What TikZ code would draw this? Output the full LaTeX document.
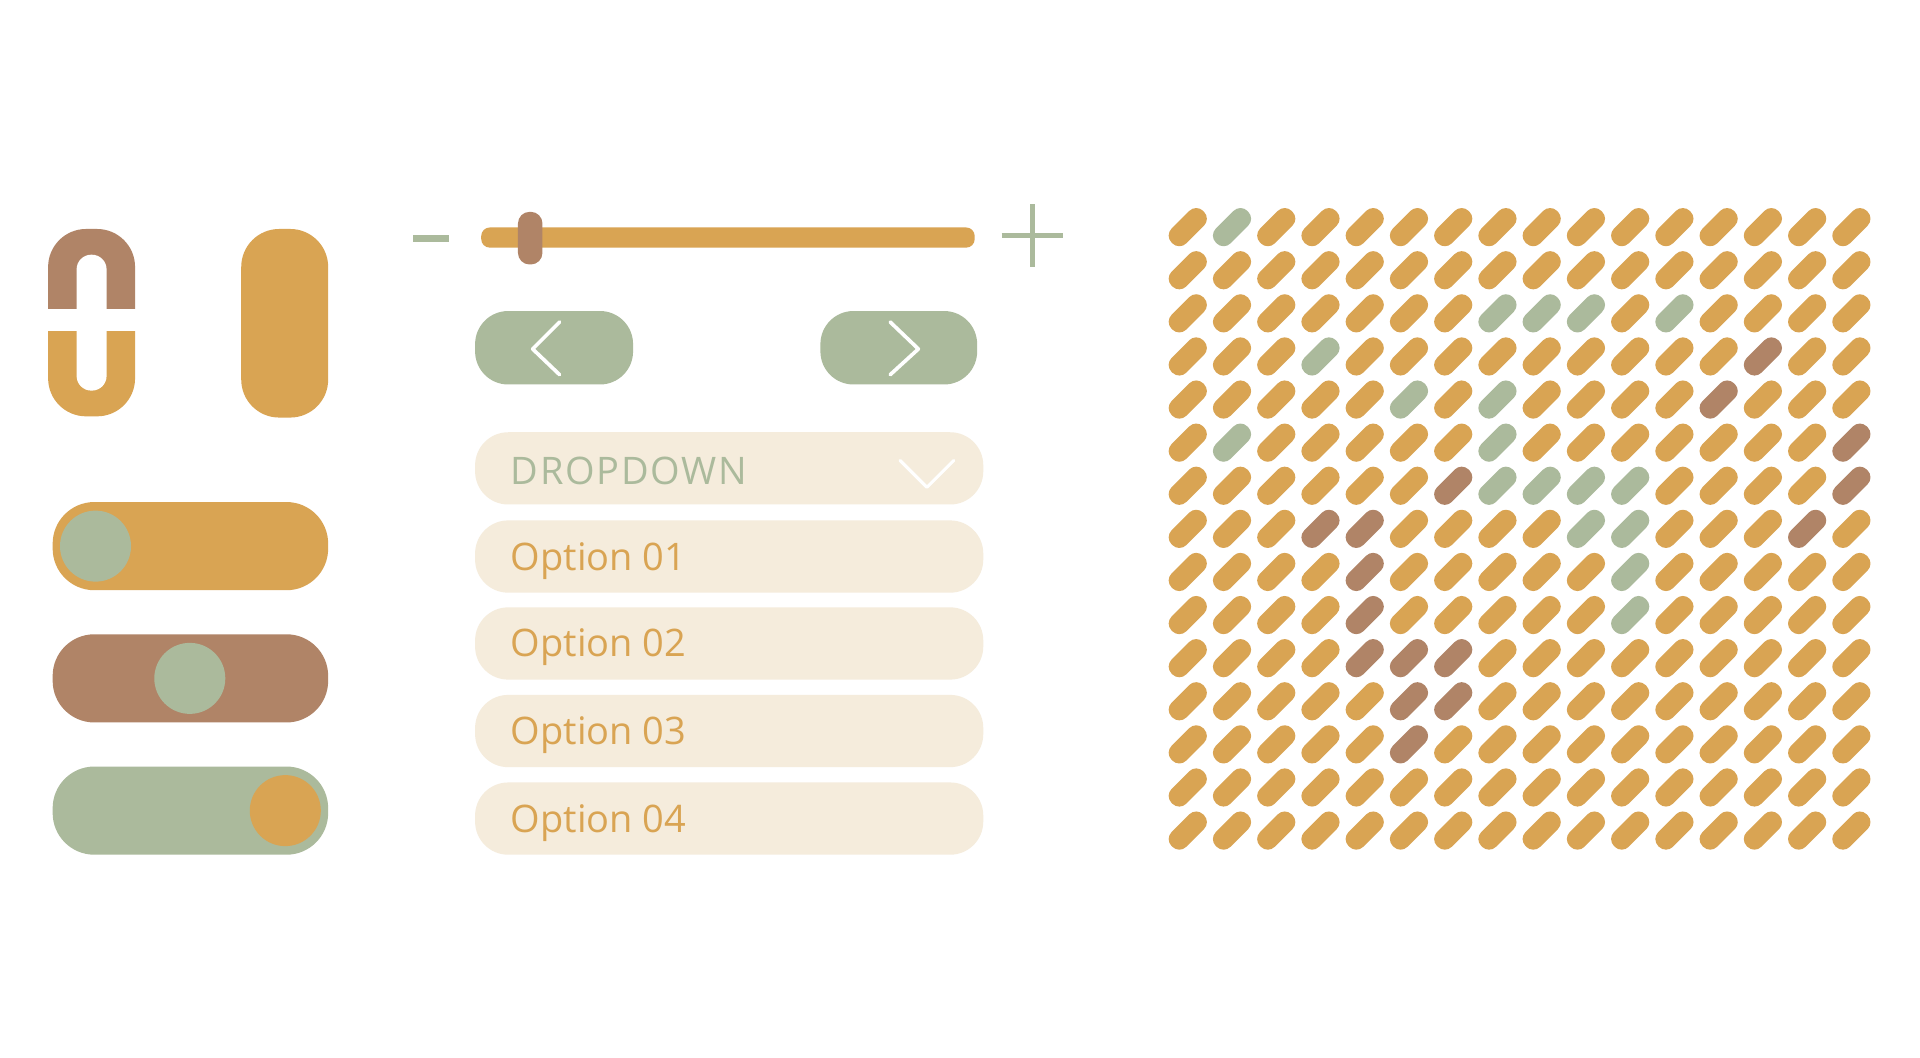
\documentclass[tikz,border=0pt]{standalone}
\usepackage{fontspec}
\setmainfont{Open Sans}
\definecolor{corange}{HTML}{D9A453}
\definecolor{cbrown}{HTML}{B08467}
\definecolor{cgreen}{HTML}{ABBA9C}
\definecolor{ccream}{HTML}{F5ECDC}
% colour map of the slash grid
\foreach \r/\c in {1/2,3/8,3/9,3/10,3/12,4/4,5/6,5/8,6/2,6/8,7/8,7/9,7/10,7/11,8/10,8/11,9/11,10/11}{%
  \expandafter\gdef\csname cc-\r-\c\endcsname{cgreen}}
\foreach \r/\c in {4/14,5/13,6/16,7/7,7/16,8/4,8/5,8/15,9/5,10/5,11/5,11/6,11/7,12/6,12/7,13/6}{%
  \expandafter\gdef\csname cc-\r-\c\endcsname{cbrown}}
\tikzset{
  pill/.style={rectangle, inner sep=0pt, outer sep=0pt, draw=none},
  knob/.style={circle, inner sep=0pt, outer sep=0pt, draw=none, minimum size=58pt},
  slashmark/.style={rectangle, inner sep=0pt, outer sep=0pt, draw=none, minimum width=36.5pt, minimum height=17pt, rounded corners=8pt, rotate=45},
  chev/.style={draw=white, line width=3pt, line cap=round, line join=round},
  optbox/.style={pill, fill=ccream, minimum width=415pt, minimum height=59pt, rounded corners=27pt},
  opttext/.style={anchor=base west, inner sep=0pt, text=corange, font=\fontsize{31}{31}\selectfont},
}
\begin{document}
\begin{tikzpicture}[x=1pt,y=-1pt]
\useasboundingbox (0,0) rectangle (1568,864);
\fill[white] (0,0) rectangle (1568,864);

% split lock shape
\begin{scope}
  \clip (0,0) rectangle (200,252);
  \node[pill, fill=cbrown, minimum width=71pt, minimum height=153pt, rounded corners=31pt] (lockTop) at (74.8,263.5) {};
\end{scope}
\begin{scope}
  \clip (0,271) rectangle (200,400);
  \node[pill, fill=corange, minimum width=71pt, minimum height=153pt, rounded corners=31pt] (lockBottom) at (74.8,263.5) {};
\end{scope}
\node[pill, fill=white, minimum width=24.5pt, minimum height=111pt, rounded corners=12pt] (lockSlot) at (74.8,263.5) {};

% plain pill
\node[pill, fill=corange, minimum width=71pt, minimum height=154pt, rounded corners=31pt] (pillA) at (232.5,264) {};

% toggles
\node[pill, fill=corange, minimum width=225pt, minimum height=72pt, rounded corners=34pt] (tgA) at (155.5,446) {};
\node[knob, fill=cgreen] (knA) at (78,446) {};
\node[pill, fill=cbrown, minimum width=225pt, minimum height=72pt, rounded corners=34pt] (tgB) at (155.5,554) {};
\node[knob, fill=cgreen] (knB) at (155,554) {};
\node[pill, fill=cgreen, minimum width=225pt, minimum height=72pt, rounded corners=34pt] (tgC) at (155.5,662) {};
\node[knob, fill=corange] (knC) at (233,662) {};

% slider
\node[pill, fill=cgreen, minimum width=30pt, minimum height=6pt] (minus) at (352,195) {};
\node[pill, fill=corange, minimum width=403pt, minimum height=16.5pt, rounded corners=7pt] (track) at (594.5,194) {};
\node[pill, fill=cbrown, minimum width=20pt, minimum height=43pt, rounded corners=9.5pt] (handle) at (433,194.5) {};
\draw[cgreen, line width=4pt] (818,192.5) -- (868,192.5) (843,167) -- (843,218);

% arrow buttons
\node[pill, fill=cgreen, minimum width=129pt, minimum height=60pt, rounded corners=27pt] (btnL) at (452.5,284) {};
\node[pill, fill=cgreen, minimum width=128pt, minimum height=60pt, rounded corners=27pt] (btnR) at (734,284) {};
\draw[chev] (457,263) -- (435,285) -- (457,306);
\draw[chev] (727,263) -- (750,285) -- (727,306);

% dropdown
\node[optbox] (dd) at (595.5,382.5) {};
\node[opttext, text=cgreen] (ddLabel) at (417,395.5) {\addfontfeature{LetterSpace=4.5}DROPDOWN};
\draw[chev, line width=2.5pt] (735,376) -- (757,398) -- (779,376);

\node[optbox] (op1) at (595.5,454.5) {};
\node[opttext] (op1Label) at (417,465.5) {Option 01};
\node[optbox] (op2) at (595.5,525.5) {};
\node[opttext] (op2Label) at (417,536.5) {Option 02};
\node[optbox] (op3) at (595.5,597) {};
\node[opttext] (op3Label) at (417,608) {Option 03};
\node[optbox] (op4) at (595.5,668.5) {};
\node[opttext] (op4Label) at (417,679.5) {Option 04};

% slash grid
\foreach \r in {1,...,15}{
  \foreach \c in {1,...,16}{
    \ifcsname cc-\r-\c\endcsname
      \edef\cellcol{\csname cc-\r-\c\endcsname}%
    \else
      \def\cellcol{corange}%
    \fi
    \node[slashmark, fill=\cellcol] (s-\r-\c) at ({970+(\c-1)*36.13},{185.5+(\r-1)*35.2}) {};
  }
}
\end{tikzpicture}
\end{document}
